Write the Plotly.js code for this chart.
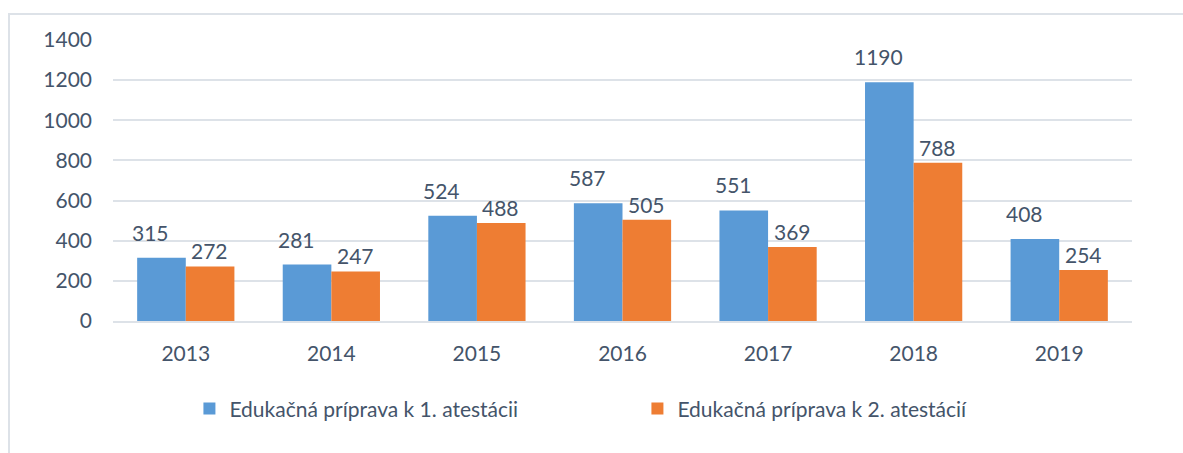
<!DOCTYPE html>
<html>
<head>
<meta charset="utf-8">
<script src="https://cdn.plot.ly/plotly-3.0.1.min.js"></script>
<style>
  html, body { margin: 0; padding: 0; background: #ffffff; }
  #chart { width: 1183px; height: 453px; }
  #frame { position: absolute; left: 8px; top: 13px; width: 1200px; height: 460px;
           border-left: 2px solid #DDE2E8; border-top: 2px solid #DDE2E8; pointer-events: none; }
</style>
</head>
<body>
<div id="chart"></div>
<div id="frame"></div>
<script>
const years = ["2013", "2014", "2015", "2016", "2017", "2018", "2019"];
const series1Name = "Edukačná príprava k 1. atestácii";
const series2Name = "Edukačná príprava k 2. atestácií";
const series1 = [315, 281, 524, 587, 551, 1190, 408];
const series2 = [272, 247, 488, 505, 369, 788, 254];
const yTicks = [0, 200, 400, 600, 800, 1000, 1200, 1400];

const textColor = "#44546A";
const font = "Lato, 'Open Sans', sans-serif";
const fs = 21;

const traces = [
  { type: "bar", name: series1Name, x: years, y: series1,
    marker: { color: "#5A9AD6" }, hoverinfo: "y" },
  { type: "bar", name: series2Name, x: years, y: series2,
    marker: { color: "#EE7D33" }, hoverinfo: "y" }
];

const annotations = [];
years.forEach((yr, i) => {
  annotations.push({ x: i, y: series1[i], xref: "x", yref: "y", text: String(series1[i]),
    showarrow: false, yanchor: "bottom", xshift: -35, yshift: 11,
    font: { family: font, size: fs, color: textColor } });
  annotations.push({ x: i, y: series2[i], xref: "x", yref: "y", text: String(series2[i]),
    showarrow: false, yanchor: "bottom", xshift: 24, yshift: 1,
    font: { family: font, size: fs, color: textColor } });
});

const layout = {
  width: 1183, height: 453,
  margin: { l: 113, r: 51, t: 40, b: 132 },
  paper_bgcolor: "#ffffff", plot_bgcolor: "#ffffff",
  barmode: "group", bargap: 0.332, bargroupgap: 0,
  font: { family: font, size: fs, color: textColor },
  showlegend: true,
  legend: { orientation: "h", x: 0.075, xanchor: "left", y: -0.313, yanchor: "middle",
    font: { family: font, size: fs, color: textColor },
    entrywidth: 403, entrywidthmode: "pixels", traceorder: "normal" },
  xaxis: { type: "category", range: [-0.5, years.length - 0.5], autorange: false,
    showgrid: false, zeroline: false, showline: true,
    linecolor: "#DDE2E8", linewidth: 2, ticks: "", ticklabelstandoff: 13,
    tickfont: { family: font, size: fs, color: textColor }, fixedrange: true },
  yaxis: { range: [0, 1400], autorange: false, tickvals: yTicks, ticktext: yTicks.map(String),
    showgrid: true, gridcolor: "#DDE2E8", gridwidth: 2, zeroline: false, showline: false,
    ticks: "", ticklabelstandoff: 20,
    tickfont: { family: font, size: fs, color: textColor }, fixedrange: true },
  annotations: annotations
};

Plotly.newPlot("chart", traces, layout, { displayModeBar: false, staticPlot: true });
</script>
</body>
</html>
